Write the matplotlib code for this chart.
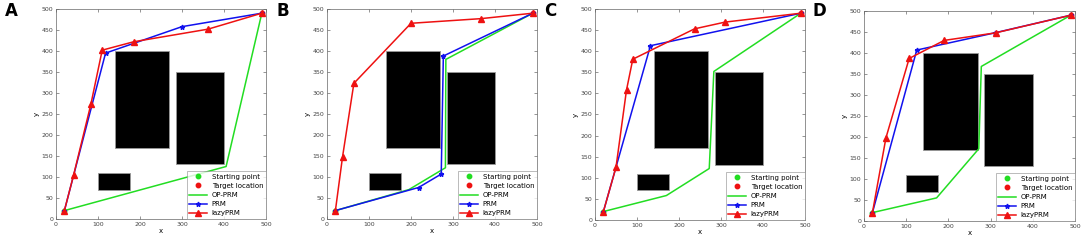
import numpy as np
import matplotlib
matplotlib.use('Agg')
import matplotlib.pyplot as plt
from matplotlib.patches import Rectangle

# obstacles: (x, y, width, height)
obstacles = [(140, 170, 130, 230), (285, 130, 115, 220), (100, 70, 75, 40)]
start = (20, 20)
goal = (490, 490)

panels = ['A', 'B', 'C', 'D']

op_x = [[20, 405, 490],
        [20, 195, 282, 283, 490],
        [20, 170, 272, 283, 490],
        [20, 172, 272, 278, 490]]
op_y = [[20, 125, 490],
        [20, 70, 122, 380, 490],
        [20, 58, 122, 352, 490],
        [20, 55, 172, 368, 490]]

prm_x = [[20, 118, 300, 490],
         [20, 218, 272, 277, 490],
         [20, 132, 490],
         [20, 125, 310, 490]]
prm_y = [[20, 395, 458, 490],
         [20, 75, 107, 388, 490],
         [20, 413, 490],
         [20, 407, 448, 490]]

lazy_x = [[20, 42, 83, 110, 185, 362, 490],
          [20, 37, 64, 200, 366, 490],
          [20, 50, 75, 90, 237, 310, 490],
          [20, 52, 107, 190, 312, 490]]
lazy_y = [[20, 105, 273, 402, 422, 452, 490],
          [20, 148, 323, 466, 477, 490],
          [20, 125, 308, 381, 453, 469, 490],
          [20, 198, 387, 430, 448, 490]]

# axes boxes in pixels (left, top, right, bottom)
boxes = [(56, 9, 266, 219), (327, 9, 537, 219), (595, 9, 805, 220), (864, 11, 1075, 221)]
W, H = 1084, 247

fig = plt.figure(figsize=(W / 100, H / 100), dpi=100)

for i, p in enumerate(panels):
    l, t, r, b = boxes[i]
    ax = fig.add_axes([l / W, 1 - b / H, (r - l) / W, (b - t) / H])
    for (ox, oy, ow, oh) in obstacles:
        ax.add_patch(Rectangle((ox, oy), ow, oh, facecolor='black', edgecolor='#999999', lw=0.6))
    ax.plot(*start, 'o', color='#22dd22', ms=3.2, label='Starting point')
    ax.plot(*goal, 'o', color='#ee1111', ms=3.2, label='Target location')
    ax.plot(op_x[i], op_y[i], color='#22dd22', lw=1.1, label='OP-PRM')
    ax.plot(prm_x[i], prm_y[i], color='#1111ee', lw=1.1, marker='*', ms=3.5, label='PRM')
    ax.plot(lazy_x[i], lazy_y[i], color='#ee1111', lw=1.1, marker='^', ms=3.8, label='lazyPRM')
    ax.set_xlim(0, 500)
    ax.set_ylim(0, 500)
    ax.set_xticks(np.arange(0, 501, 100))
    ax.set_yticks(np.arange(0, 501, 50))
    ax.tick_params(labelsize=4.5, length=2, width=0.4, direction='in', top=True, right=True, pad=2, colors='#444444')
    for s in ax.spines.values():
        s.set_linewidth(0.5)
        s.set_color('#666666')
    ax.set_xlabel('x', fontsize=5, labelpad=1)
    ax.set_ylabel('y', fontsize=5, labelpad=1)
    leg = ax.legend(loc='lower right', fontsize=5, frameon=True, fancybox=False,
                    borderpad=0.35, labelspacing=0.45, handlelength=2.6, handletextpad=0.6,
                    borderaxespad=0.05)
    leg.get_frame().set_edgecolor('#888888')
    leg.get_frame().set_linewidth(0.5)
    fig.text((l - 51) / W, 1 - 16 / H, p, fontsize=12, fontweight='bold')

fig.savefig('out.png', dpi=100)
